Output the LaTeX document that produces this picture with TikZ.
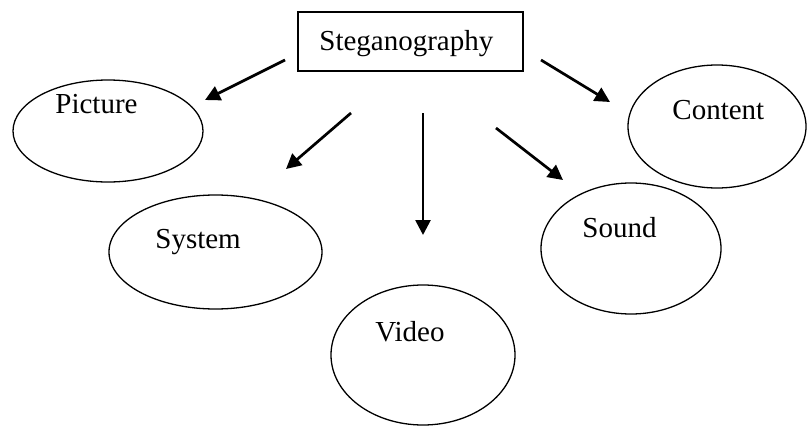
\documentclass[tikz,border=0pt]{standalone}
\usepackage{fontspec}
\setmainfont{Liberation Serif}
\usetikzlibrary{arrows.meta,shapes.geometric}

\begin{document}
\begin{tikzpicture}[x=0.5pt,y=-0.5pt, font=\fontsize{14.5}{17}\selectfont,
  >={Triangle[length=7.5pt,width=7.5pt]},
  topbox/.style={draw,line width=0.8pt,inner sep=0pt},
  oval/.style={ellipse,draw,line width=0.65pt,inner sep=0pt},
  lbl/.style={anchor=base west,inner sep=0pt},
  arr/.style={->,line width=1.35pt}]
  \useasboundingbox (0,0) rectangle (808,428);

  \node[topbox,minimum width=112.5pt,minimum height=29.5pt] (steg) at (410.5,41.5) {};
  \node[lbl] (steg-t) at (319,50) {Steganography};

  % ovals, text sits high and to the left in each
  \node[oval,minimum width=95pt,minimum height=51pt]    (pic) at (108,131) {};
  \node[oval,minimum width=106.5pt,minimum height=57pt] (sys) at (215.5,252) {};
  \node[oval,minimum width=92pt,minimum height=70pt]    (vid) at (423,355) {};
  \node[oval,minimum width=90pt,minimum height=65.5pt]  (snd) at (631,248.5) {};
  \node[oval,minimum width=89pt,minimum height=61.5pt]  (con) at (717,126.5) {};

  \node[lbl] (pic-t) at (55,113)  {Picture};
  \node[lbl] (sys-t) at (155,248) {System};
  \node[lbl] (vid-t) at (375,341) {Video};
  \node[lbl] (snd-t) at (582,237) {Sound};
  \node[lbl] (con-t) at (672,119) {Content};

  % arrows float free of the box and ovals
  \coordinate (pic-s) at (285,60);  \coordinate (pic-e) at (205,100);
  \coordinate (sys-s) at (351,113); \coordinate (sys-e) at (286,169);
  \coordinate (vid-s) at (423,113); \coordinate (vid-e) at (423,235);
  \coordinate (snd-s) at (496,128); \coordinate (snd-e) at (563,180);
  \coordinate (con-s) at (541,60);  \coordinate (con-e) at (610,102);

  \draw[arr] (pic-s) -- (pic-e);
  \draw[arr] (sys-s) -- (sys-e);
  \draw[arr] (vid-s) -- (vid-e);
  \draw[arr] (snd-s) -- (snd-e);
  \draw[arr] (con-s) -- (con-e);
\end{tikzpicture}
\end{document}
